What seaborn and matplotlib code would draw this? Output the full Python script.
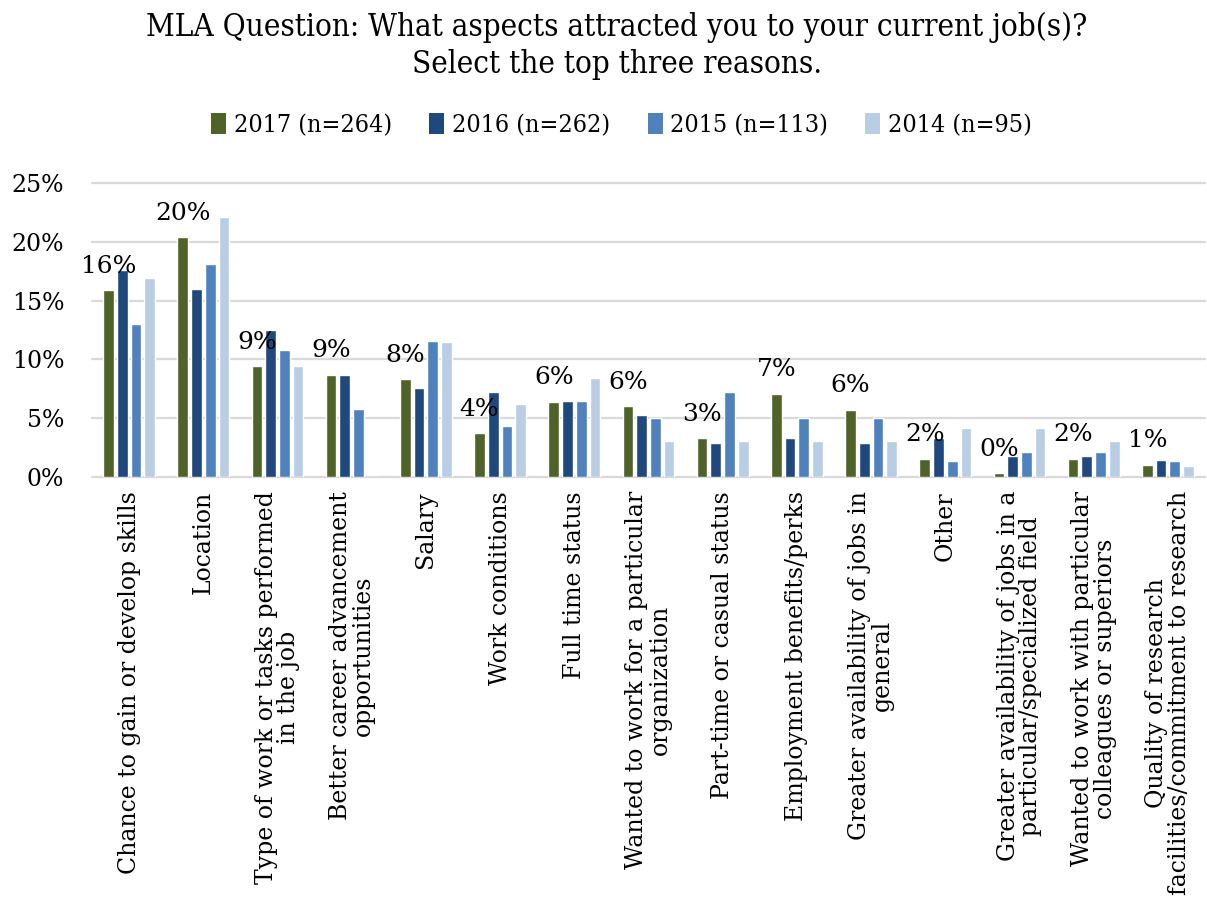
import matplotlib
matplotlib.use("Agg")
import matplotlib.pyplot as plt
import seaborn as sns
import pandas as pd
from matplotlib.patches import Patch

categories = [
    "Chance to gain or develop skills",
    "Location",
    "Type of work or tasks performed\nin the job",
    "Better career advancement\nopportunities",
    "Salary",
    "Work conditions",
    "Full time status",
    "Wanted to work for a particular\norganization",
    "Part-time or casual status",
    "Employment benefits/perks",
    "Greater availability of jobs in\ngeneral",
    "Other",
    "Greater availability of jobs in a\nparticular/specialized field",
    "Wanted to work with particular\ncolleagues or superiors",
    "Quality of research\nfacilities/commitment to research",
]
series_names = ["2017 (n=264)", "2016 (n=262)", "2015 (n=113)", "2014 (n=95)"]
v2017 = [15.9, 20.4, 9.4, 8.7, 8.3, 3.7, 6.4, 6.0, 3.3, 7.1, 5.7, 1.55, 0.3, 1.55, 1.05]
v2016 = [17.6, 16.0, 12.5, 8.7, 7.6, 7.2, 6.5, 5.3, 2.9, 3.3, 2.9, 3.3, 1.8, 1.8, 1.45]
v2015 = [13.0, 18.1, 10.8, 5.75, 11.6, 4.3, 6.5, 5.0, 7.2, 5.0, 5.0, 1.4, 2.1, 2.1, 1.4]
v2014 = [16.9, 22.1, 9.4, 0.0, 11.5, 6.2, 8.4, 3.1, 3.1, 3.1, 3.1, 4.2, 4.2, 3.1, 0.96]
colors = ["#4F6228", "#1F497D", "#4F81BD", "#B9CDE5"]
yticks = [0, 5, 10, 15, 20, 25]

rows = []
for name, vals in zip(series_names, [v2017, v2016, v2015, v2014]):
    for c, v in zip(categories, vals):
        rows.append({"cat": c, "series": name, "value": v})
df = pd.DataFrame(rows)

sns.set_theme(style="white")
plt.rcParams["font.family"] = ["DejaVu Serif"]
plt.rcParams["text.color"] = "black"
plt.rcParams["xtick.color"] = "black"
plt.rcParams["ytick.color"] = "black"

fig = plt.figure(figsize=(12.07, 9.06), dpi=100)
ax = fig.add_axes([92 / 1207, 1 - 477 / 906, (1205 - 92) / 1207, (477 - 183) / 906])

sns.barplot(data=df, x="cat", y="value", hue="series", order=categories,
            hue_order=series_names, palette=colors, width=0.74, ax=ax,
            legend=False, saturation=1, errorbar=None)

for p in ax.patches:
    cx = p.get_x() + p.get_width() / 2
    p.set_width(0.145)
    p.set_x(cx - 0.0725)

ax.set_ylim(0, 25)
ax.set_xlim(-0.5, len(categories) - 0.5)
ax.set_yticks(yticks)
ax.set_yticklabels([f"{t}%" for t in yticks], fontsize=17)
ax.yaxis.grid(True, color="#D9D9D9", linewidth=1.6)
for gl in ax.get_ygridlines():
    gl.set_clip_on(False)
ax.set_axisbelow(True)
for s in ax.spines.values():
    s.set_visible(False)
ax.tick_params(axis="both", length=0)
ax.tick_params(axis="x", pad=10)
ax.tick_params(axis="y", pad=20)
ax.set_xlabel("")
ax.set_ylabel("")
ax.set_xticks(range(len(categories)))
ax.set_xticklabels(categories, rotation=90, fontsize=17, ha="center", va="top",
                   multialignment="center", linespacing=1.0)

ax.bar_label(ax.containers[0], labels=[f"{v:.0f}%" for v in v2017],
             padding=9, fontsize=18)

handles = [Patch(facecolor=c, edgecolor="none") for c in colors]
fig.legend(handles, series_names, loc="center", bbox_to_anchor=(0.515, 1 - 125 / 906),
           ncol=4, frameon=False, handlelength=0.6, handleheight=0.9,
           handletextpad=0.3, columnspacing=1.5,
           prop={"family": "DejaVu Serif", "stretch": "condensed", "size": 18})

fig.text(0.511, 1 - 46 / 906,
         "MLA Question: What aspects attracted you to your current job(s)?\nSelect the top three reasons.",
         ha="center", va="center", fontsize=22.5, fontstretch="condensed", linespacing=1.25)

fig.savefig("out.png", dpi=100)
